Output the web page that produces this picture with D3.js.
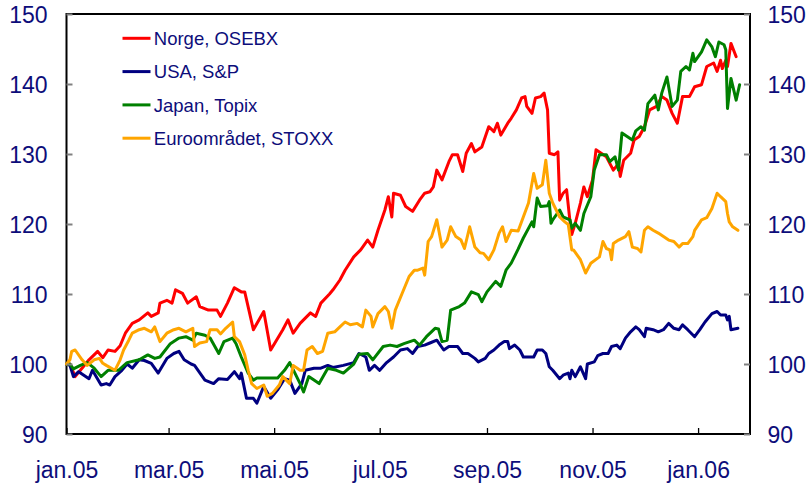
<!DOCTYPE html>
<html>
<head>
<meta charset="utf-8">
<script src="https://cdn.jsdelivr.net/npm/d3@7"></script>
<style>
  html, body { margin: 0; padding: 0; background: #fff; }
  svg { display: block; font-family: "Liberation Sans", Arial, sans-serif; }
</style>
</head>
<body>
<svg id="chart" width="812" height="488"></svg>
<script>
// ---- data: [days since 2005-01-01, index value] ----
const norge = [[0,100],[2,100],[5,98.2],[8,99.1],[13,100.6],[18,101.8],[21,100.9],[24,102],[28,101.8],[31,102.6],[34,104.4],[38,105.8],[42,106.3],[47,107.3],[49,106.8],[53,107.3],[54,108.7],[58,109.1],[61,108.7],[63,110.6],[67,110.1],[70,108.7],[75,109.6],[77,108.2],[82,107.7],[87,107.7],[89,106.8],[93,108.7],[97,110.9],[101,110.3],[103,110.3],[108,104.9],[114,107.5],[118,102],[125,104.9],[128,106.3],[131,104.4],[135,105.8],[141,107.3],[144,106.8],[147,108.7],[152,110],[154,110.6],[158,112],[161,113.4],[166,115.3],[170,116.3],[174,117.7],[177,116.7],[180,119.1],[184,122],[186,123.9],[188,121],[189,124.4],[193,124.1],[196,122.5],[200,121.8],[204,123.4],[207,124.4],[210,124.6],[212,125.3],[214,127.7],[217,126.3],[221,128.9],[223,129.9],[226,129.9],[229,127.5],[231,130.1],[234,131.5],[236,130.3],[240,131],[244,133.9],[247,133.2],[249,134.4],[251,132.7],[255,134.4],[257,135.1],[260,136.3],[263,138],[265,138.2],[266,136.8],[269,135.8],[271,138],[274,138.2],[276,138.7],[278,136.3],[279,130.1],[282,129.9],[284,130.3],[285,123.4],[287,124.4],[289,124.9],[291,120.3],[292,118.5],[294,120.1],[297,123],[299,125.3],[301,123.9],[304,126.3],[306,130.6],[309,130.1],[312,129.6],[316,127.7],[319,128.6],[320,126.8],[322,129.1],[326,130.1],[328,132],[331,132.5],[334,133.9],[337,136.3],[341,136.8],[344,138.2],[347,137.7],[350,135.8],[353,134.4],[356,138.2],[360,138.2],[363,139.6],[367,139.9],[370,142.5],[374,143],[376,141.8],[378,143.4],[379,142.2],[381,143.4],[382,142.5],[384,145.8],[387,143.9]];

const usa = [[0,100],[2,99.8],[4,98.2],[7,98.9],[10,98.4],[13,97.9],[15,99.1],[20,97],[23,97.2],[25,97],[28,98.2],[32,99.1],[35,100],[38,99.4],[42,100.6],[45,100.5],[49,100.1],[53,98.7],[58,100.8],[62,101.5],[65,101.8],[68,100.6],[72,100],[74,99.8],[80,97.7],[85,97.2],[88,97.9],[93,97.8],[97,98.9],[100,97.9],[101,98.7],[104,95.1],[108,95.1],[110,94.4],[114,96.8],[118,95.1],[122,96.3],[126,97.9],[129,97.7],[132,95.8],[136,97.2],[138,99.1],[143,99.4],[147,99.4],[151,99.8],[154,99.5],[160,99.8],[166,100.2],[169,101.5],[173,101],[175,99.1],[178,99.8],[181,99.1],[185,100.2],[189,101],[193,102],[197,102.2],[200,101.5],[203,102.5],[207,102.7],[210,103],[214,103.4],[218,102],[221,102.5],[226,102.5],[229,101.5],[232,101.5],[236,100.8],[238,100.3],[242,100.8],[244,101.5],[247,102],[250,102.7],[253,103.2],[255,103.2],[256,102.2],[259,102.7],[262,102],[264,101],[268,101],[270,101],[272,102],[275,102],[277,101.5],[279,99.6],[281,99.1],[285,97.9],[287,98.4],[290,98.7],[291,97.9],[292,99.1],[294,98.2],[297,99.6],[300,97.9],[301,100],[305,100.3],[307,101.2],[310,101.5],[313,101.5],[315,102.5],[318,102.7],[320,102.2],[323,103.7],[326,104.6],[329,105.3],[331,104.9],[334,103.9],[335,105.1],[339,104.9],[342,104.6],[345,104.9],[348,105.8],[351,105.1],[354,104.9],[356,105.6],[359,104.9],[363,103.9],[366,104.9],[369,106],[373,107.2],[376,107.5],[378,107],[381,107],[382,106.3],[383,106.8],[384,104.9],[388,105.1]];

const japan = [[0,100],[2,100],[4,99.3],[8,99.8],[12,100.2],[16,99.4],[20,98.2],[24,99.1],[30,99.1],[35,100.2],[42,100.6],[47,101.3],[51,100.8],[54,101],[60,102.9],[65,103.7],[69,103.9],[73,103.4],[75,104.4],[80,104.1],[83,103.7],[88,101.5],[91,103.2],[96,103.7],[98,102.9],[101,101],[105,98.7],[108,97.7],[110,98],[112,98],[122,98],[126,99.1],[129,100.2],[132,98.7],[135,97.2],[137,96],[140,98.2],[146,97.2],[151,99.4],[156,99.1],[160,98.7],[166,100],[169,101.4],[174,101.5],[177,100.6],[183,102.5],[187,102.7],[191,102.5],[195,102.9],[201,103.4],[204,102.7],[208,103.9],[213,105.1],[215,105],[217,103.2],[220,103.4],[222,107.7],[227,108.2],[230,108.7],[234,110.3],[238,109.9],[240,108.9],[243,110.3],[248,111.8],[251,111.1],[254,113.4],[257,114.4],[261,116.4],[264,118],[269,120.3],[270,119.6],[272,123.7],[274,122.5],[278,122.6],[279,123.2],[280,120.1],[281,120.6],[285,122],[287,121],[291,120.6],[292,119.4],[294,120.1],[297,119.1],[299,121.5],[303,123.9],[305,127.7],[308,129.9],[312,129.9],[314,128.9],[317,129.6],[319,127.7],[321,133],[324,132.5],[327,132],[329,133.3],[332,133.9],[334,133.4],[336,137.2],[340,138.4],[342,136.3],[344,138.7],[347,141],[350,136.8],[353,137.7],[355,141.8],[358,142.5],[360,142],[362,144.4],[363,143.2],[367,144.6],[370,146.3],[373,145.3],[375,143.9],[377,146],[380,145.6],[381,144.9],[382,136.5],[384,140.8],[387,137.7],[389,139.9]];

const euro = [[0,100],[2,100.6],[3,101.8],[5,102],[9,100.6],[12,99.8],[16,100.6],[19,100.8],[21,100.1],[23,99.8],[28,99.1],[31,100.6],[33,102],[36,103.4],[38,104.4],[42,104.9],[45,105.1],[49,104.6],[51,105.3],[54,103.2],[58,104.4],[62,104.9],[65,105.1],[69,104.6],[73,105.1],[74,102.5],[77,103],[81,103.2],[83,104.9],[87,104.9],[89,104.3],[92,105.1],[96,106],[97,103.9],[100,103.2],[103,101.3],[105,99.1],[107,97.2],[110,96.5],[114,97],[116,95.4],[119,95.8],[123,97],[125,98.2],[129,97.2],[131,99.8],[135,99.1],[137,99.1],[139,102],[142,102.5],[145,101.5],[148,101.8],[151,104.4],[155,104.6],[158,105.3],[161,106],[164,105.6],[168,105.8],[171,105.3],[173,107.7],[176,106.8],[177,105.3],[180,107.2],[184,108.2],[186,107.5],[188,105.1],[190,107.7],[194,110.1],[198,112.5],[201,113.4],[203,113.4],[206,113.7],[207,112.7],[209,117.5],[211,118.2],[214,120.6],[217,116.7],[220,117.7],[222,119.6],[225,118.2],[228,117.7],[230,116.5],[233,119.6],[236,116.7],[239,115.9],[241,115.8],[244,114.9],[247,116.3],[250,118.7],[252,119.6],[254,117.5],[257,119.1],[261,119],[264,121],[267,123],[270,127.2],[272,125.1],[275,125.6],[277,129.1],[279,124.4],[281,123],[285,121],[288,120.3],[290,119.9],[292,116.3],[293,116.3],[297,114.9],[300,113],[303,114.4],[308,115.3],[310,117.5],[312,116.5],[314,116.3],[315,114.9],[316,117.2],[319,117.7],[323,118.2],[325,118.9],[327,116.7],[330,116.5],[332,116],[334,119.1],[336,119.6],[339,119.1],[342,118.7],[345,118.2],[348,117.7],[351,117.5],[354,116.7],[356,117.2],[359,117.2],[362,118.2],[363,119.1],[367,120.6],[370,120.9],[373,122.2],[376,124.4],[378,123.9],[381,123.2],[382,121.5],[383,120.3],[385,119.6],[388,119.1]];

const seriesNames = ["Norge, OSEBX", "USA, S&P", "Japan, Topix", "Euroområdet, STOXX"];
const seriesColors = ["#ff0000", "#000080", "#008000", "#ffa500"];
const yTicks = [90, 100, 110, 120, 130, 140, 150];
const xTickLabels = ["jan.05", "mar.05", "mai.05", "jul.05", "sep.05", "nov.05", "jan.06"];
const xTickDates = ["2005-01-01", "2005-03-01", "2005-05-01", "2005-07-01", "2005-09-01", "2005-11-01", "2006-01-01"];

// ---- layout ----
const L = 66.5, R = 750, T = 14, B = 434;
const START = new Date(2005, 0, 1);
const parse = d3.timeParse("%Y-%m-%d");
const toDate = d => d3.timeDay.offset(START, d);

const x = d3.scaleTime().domain([START, new Date(2006, 0, 31)]).range([L, R]);
const y = d3.scaleLinear().domain([90, 150]).range([B, T]);

const svg = d3.select("#chart");
const txt = "#0d0d7a";

// frame
svg.append("rect").attr("x", L).attr("y", T).attr("width", R - L).attr("height", B - T)
  .attr("fill", "none").attr("stroke", "#000").attr("stroke-width", 2);

// lines
const line = d3.line().x(d => x(toDate(d[0]))).y(d => y(d[1]));
[norge, usa, japan, euro].forEach((s, i) => {
  svg.append("path").datum(s).attr("d", line)
    .attr("fill", "none").attr("stroke", seriesColors[i])
    .attr("stroke-width", 3).attr("stroke-linejoin", "round").attr("stroke-linecap", "round");
});

// left axis
const gl = svg.append("g").attr("transform", `translate(${L},0)`)
  .call(d3.axisLeft(y).tickValues(yTicks).tickSize(-6).tickPadding(19).tickFormat(d3.format("d")));
gl.select(".domain").remove();
gl.selectAll(".tick line").attr("stroke", "#808080").attr("stroke-width", 2);
gl.selectAll(".tick text").attr("fill", txt).attr("font-size", 23).attr("dy", "0.37em")
  .attr("font-family", "Liberation Sans, Arial, sans-serif");

// right axis
const gr = svg.append("g").attr("transform", `translate(${R},0)`)
  .call(d3.axisRight(y).tickValues(yTicks).tickSize(-6).tickPadding(17.5).tickFormat(d3.format("d")));
gr.select(".domain").remove();
gr.selectAll(".tick line").attr("stroke", "#808080").attr("stroke-width", 2);
gr.selectAll(".tick text").attr("fill", txt).attr("font-size", 23).attr("dy", "0.37em")
  .attr("font-family", "Liberation Sans, Arial, sans-serif");

// bottom axis
const gb = svg.append("g").attr("transform", `translate(0,${B})`)
  .call(d3.axisBottom(x).tickValues(xTickDates.map(parse)).tickSize(-6).tickPadding(28)
    .tickFormat((d, i) => xTickLabels[i]));
gb.select(".domain").remove();
gb.selectAll(".tick line").attr("stroke", "#000").attr("stroke-width", 1.3);
gb.selectAll(".tick text").attr("fill", txt).attr("font-size", 23)
  .attr("font-family", "Liberation Sans, Arial, sans-serif");

// legend
const leg = svg.append("g");
seriesNames.forEach((n, i) => {
  const yy = 38.3 + i * 33.3;
  leg.append("line").attr("x1", 122.5).attr("x2", 150.5).attr("y1", yy).attr("y2", yy)
    .attr("stroke", seriesColors[i]).attr("stroke-width", 3);
  leg.append("text").attr("x", 153.8).attr("y", yy + 6.8).text(n)
    .attr("fill", txt).attr("font-size", 18.5);
});
</script>
</body>
</html>
